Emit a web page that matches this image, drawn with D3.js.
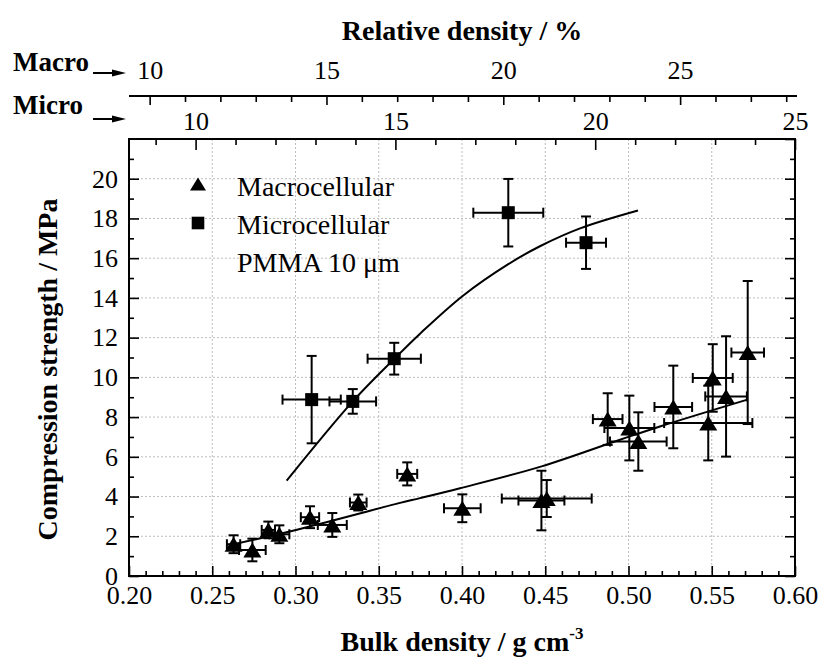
<!DOCTYPE html>
<html>
<head>
<meta charset="utf-8">
<script src="https://cdn.jsdelivr.net/npm/d3@7"></script>
<style>
  html, body { margin: 0; padding: 0; background: #fff; }
  svg { display: block; }
</style>
</head>
<body>
<svg id="chart" width="823" height="657"></svg>
<script>
// ---------------- data ----------------
const bulkTicks = [0.20, 0.25, 0.30, 0.35, 0.40, 0.45, 0.50, 0.55, 0.60];
const strengthTicks = [0, 2, 4, 6, 8, 10, 12, 14, 16, 18, 20];
const macroRelTicks = [10, 15, 20, 25];
const microRelTicks = [10, 15, 20, 25];

// Microcellular (squares)
const microBulk        = [0.3097, 0.3344, 0.3593, 0.4278, 0.4745];
const microStrength    = [8.88, 8.79, 10.94, 18.29, 16.78];
const microBulkErr     = [0.0175, 0.014, 0.016, 0.021, 0.012];
const microStrengthErr = [2.2, 0.62, 0.8, 1.7, 1.32];

// Macrocellular (triangles)
const macroBulk        = [0.2628, 0.2741, 0.2837, 0.2903, 0.3087, 0.3221, 0.3377, 0.3671, 0.4002, 0.4477, 0.4509, 0.4875, 0.5005, 0.5059, 0.5269, 0.5479, 0.5506, 0.5586, 0.5716];
const macroStrength    = [1.60, 1.31, 2.32, 2.10, 2.96, 2.57, 3.70, 5.14, 3.41, 3.80, 3.90, 7.90, 7.45, 6.77, 8.51, 7.70, 9.97, 9.04, 11.25];
const macroBulkErr     = [0.004, 0.008, 0.004, 0.006, 0.0055, 0.0087, 0.005, 0.006, 0.011, 0.0138, 0.027, 0.0089, 0.015, 0.017, 0.0113, 0.0265, 0.012, 0.0125, 0.0098];
const macroStrengthErr = [0.45, 0.57, 0.42, 0.45, 0.55, 0.6, 0.4, 0.58, 0.7, 1.5, 0.93, 1.3, 1.63, 1.47, 2.08, 1.88, 1.7, 3.03, 3.6];

// Fit curves
const microFitBulk     = [0.2947, 0.3344, 0.3593, 0.3748, 0.4004, 0.4278, 0.4468, 0.4709, 0.5057];
const microFitStrength = [4.8, 8.79, 10.93, 12.2, 14.1, 15.7, 16.6, 17.5, 18.4];
const macroFitBulk     = [0.2628, 0.3003, 0.3628, 0.3748, 0.3988, 0.4478, 0.4949, 0.5189, 0.5714];
const macroFitStrength = [1.6, 2.32, 3.68, 3.92, 4.42, 5.52, 6.86, 7.53, 8.88];

// solid densities relating bulk density to relative density (%)
const microSolid = 2.4;
const macroSolid = 2.124;

// ---------------- layout ----------------
const FONT = "'Liberation Serif', 'Times New Roman', Times, 'DejaVu Serif', 'Noto Serif', serif";
const L = 129, R = 795, T = 139, B = 576;
const svg = d3.select("#chart").attr("font-family", FONT);

const x = d3.scaleLinear().domain([0.2, 0.6]).range([L, R]);
const y = d3.scaleLinear().domain([0, 22]).range([B, T]);
const xMicro = d3.scaleLinear().domain([20 / microSolid, 60 / microSolid]).range([L, R]);
const xMacro = d3.scaleLinear().domain([20 / macroSolid, 60 / macroSolid]).range([L, R]);

// grid
const grid = svg.append("g").attr("stroke", "#bdbdbd").attr("stroke-width", 1).attr("stroke-dasharray", "2,2");
bulkTicks.slice(1, -1).forEach(v => {
  grid.append("line").attr("x1", x(v)).attr("x2", x(v)).attr("y1", T).attr("y2", B);
});
strengthTicks.slice(1).forEach(v => {
  grid.append("line").attr("x1", L).attr("x2", R).attr("y1", y(v)).attr("y2", y(v));
});

function styleAxis(g, fs) {
  g.attr("font-family", FONT).attr("font-size", fs);
  g.selectAll("path.domain").attr("stroke", "#000").attr("stroke-width", 2);
  g.selectAll(".tick line").attr("stroke", "#000").attr("stroke-width", 1.6);
  g.selectAll("text").attr("font-size", fs).attr("font-family", FONT).attr("fill", "#000");
}

const minorBulk = d3.range(21, 60).map(d => d / 100).filter(d => Math.round(d * 100) % 5 !== 0);
const minorStrength = d3.range(1, 22, 2);

// bottom axis
const gB = svg.append("g").attr("transform", `translate(0,${B})`)
  .call(d3.axisBottom(x).tickValues(bulkTicks).tickFormat(d3.format(".2f")).tickSizeInner(-10).tickSizeOuter(0).tickPadding(10));
styleAxis(gB, 26);
gB.select("path.domain").remove();
const gBm = svg.append("g").attr("transform", `translate(0,${B})`)
  .call(d3.axisBottom(x).tickValues(minorBulk).tickFormat("").tickSizeInner(-5).tickSizeOuter(0));
styleAxis(gBm, 26); gBm.select("path.domain").remove();

// left axis
const gL = svg.append("g").attr("transform", `translate(${L},0)`)
  .call(d3.axisLeft(y).tickValues(strengthTicks).tickFormat(d3.format("d")).tickSizeInner(-10).tickSizeOuter(0).tickPadding(11));
styleAxis(gL, 26); gL.select("path.domain").remove();
const gLm = svg.append("g").attr("transform", `translate(${L},0)`)
  .call(d3.axisLeft(y).tickValues(minorStrength).tickFormat("").tickSizeInner(-5).tickSizeOuter(0));
styleAxis(gLm, 26); gLm.select("path.domain").remove();

// right axis (mirror)
const gR = svg.append("g").attr("transform", `translate(${R},0)`)
  .call(d3.axisRight(y).tickValues(strengthTicks.concat([22])).tickFormat("").tickSizeInner(-10).tickSizeOuter(0));
styleAxis(gR, 26); gR.select("path.domain").remove();
const gRm = svg.append("g").attr("transform", `translate(${R},0)`)
  .call(d3.axisRight(y).tickValues(minorStrength).tickFormat("").tickSizeInner(-5).tickSizeOuter(0));
styleAxis(gRm, 26); gRm.select("path.domain").remove();

// top micro axis (on frame)
const microMinor = d3.range(9, 25).filter(d => d % 5 !== 0);
const gT = svg.append("g").attr("transform", `translate(0,${T})`)
  .call(d3.axisTop(xMicro).tickValues(microRelTicks).tickFormat(d3.format("d")).tickSizeInner(-11).tickSizeOuter(0).tickPadding(9));
styleAxis(gT, 26); gT.select("path.domain").remove();
const gTm = svg.append("g").attr("transform", `translate(0,${T})`)
  .call(d3.axisTop(xMicro).tickValues(microMinor).tickFormat("").tickSizeInner(-6).tickSizeOuter(0));
styleAxis(gTm, 26); gTm.select("path.domain").remove();

// macro axis (separate, above)
const macroY = 96;
const macroMinor = d3.range(10, 29).filter(d => d % 5 !== 0);
const gM = svg.append("g").attr("transform", `translate(0,${macroY})`)
  .call(d3.axisTop(xMacro).tickValues(macroRelTicks).tickFormat(d3.format("d")).tickSizeInner(-9).tickSizeOuter(0).tickPadding(17));
styleAxis(gM, 26);
gM.select("path.domain").attr("d", `M${L},0H${R + 2}`);
const gMm = svg.append("g").attr("transform", `translate(0,${macroY})`)
  .call(d3.axisTop(xMacro).tickValues(macroMinor).tickFormat("").tickSizeInner(-6).tickSizeOuter(0));
styleAxis(gMm, 26); gMm.select("path.domain").remove();

// frame
svg.append("rect").attr("x", L).attr("y", T).attr("width", R - L).attr("height", B - T)
  .attr("fill", "none").attr("stroke", "#000").attr("stroke-width", 2);

// fit lines
const line = d3.line().x(d => x(d[0])).y(d => y(d[1])).curve(d3.curveCatmullRom.alpha(0.5));
svg.append("path").datum(d3.zip(microFitBulk, microFitStrength)).attr("d", line)
  .attr("fill", "none").attr("stroke", "#000").attr("stroke-width", 2);
svg.append("path").datum(d3.zip(macroFitBulk, macroFitStrength)).attr("d", line)
  .attr("fill", "none").attr("stroke", "#000").attr("stroke-width", 2);

// error bars
function errorBars(bx, sy, bErr, sErr) {
  const g = svg.append("g").attr("stroke", "#000").attr("stroke-width", 2).attr("fill", "none");
  const cap = 5;
  bx.forEach((b, i) => {
    const cx = x(b), cy = y(sy[i]);
    const y1 = y(sy[i] + sErr[i]), y2 = y(sy[i] - sErr[i]);
    const x1 = x(b - bErr[i]), x2 = x(b + bErr[i]);
    g.append("line").attr("x1", cx).attr("x2", cx).attr("y1", y1).attr("y2", y2);
    g.append("line").attr("x1", cx - cap).attr("x2", cx + cap).attr("y1", y1).attr("y2", y1);
    g.append("line").attr("x1", cx - cap).attr("x2", cx + cap).attr("y1", y2).attr("y2", y2);
    g.append("line").attr("x1", x1).attr("x2", x2).attr("y1", cy).attr("y2", cy);
    g.append("line").attr("x1", x1).attr("x2", x1).attr("y1", cy - cap).attr("y2", cy + cap);
    g.append("line").attr("x1", x2).attr("x2", x2).attr("y1", cy - cap).attr("y2", cy + cap);
  });
}
errorBars(macroBulk, macroStrength, macroBulkErr, macroStrengthErr);
errorBars(microBulk, microStrength, microBulkErr, microStrengthErr);

// markers
const triPath = (w, h) => `M0,${-h / 2}L${w / 2},${h / 2}L${-w / 2},${h / 2}Z`;
svg.append("g").selectAll("path").data(d3.zip(macroBulk, macroStrength)).join("path")
  .attr("d", triPath(18, 15)).attr("transform", d => `translate(${x(d[0])},${y(d[1])})`).attr("fill", "#000");
svg.append("g").selectAll("rect").data(d3.zip(microBulk, microStrength)).join("rect")
  .attr("x", d => x(d[0]) - 6.5).attr("y", d => y(d[1]) - 6.5).attr("width", 13).attr("height", 13).attr("fill", "#000");

// legend
const leg = svg.append("g");
leg.append("path").attr("d", triPath(16, 13)).attr("transform", "translate(198,184)").attr("fill", "#000");
leg.append("rect").attr("x", 198 - 6.3).attr("y", 223 - 6.3).attr("width", 12.6).attr("height", 12.6).attr("fill", "#000");
const legendLabels = ["Macrocellular", "Microcellular", "PMMA 10 \u03bcm"];
leg.selectAll("text").data(legendLabels).join("text")
  .attr("x", 237).attr("y", (d, i) => 196 + i * 38).attr("font-size", 28).attr("font-family", FONT).text(d => d);

// axis titles
svg.append("text").attr("x", (L + R) / 2).attr("y", 40).attr("text-anchor", "middle")
  .attr("font-size", 28).attr("font-weight", "bold").attr("font-family", FONT).text("Relative density / %");

const xt = svg.append("text").attr("x", (L + R) / 2).attr("y", 651).attr("text-anchor", "middle")
  .attr("font-size", 28).attr("font-weight", "bold").attr("font-family", FONT);
xt.append("tspan").text("Bulk density / g cm");
xt.append("tspan").attr("dy", -12).attr("font-size", 17).text("-3");

svg.append("text").attr("transform", `translate(57,${(T + B) / 2 + 12}) rotate(-90)`).attr("text-anchor", "middle")
  .attr("font-size", 28).attr("font-weight", "bold").attr("font-family", FONT).text("Compression strength / MPa");

// Macro / Micro labels with arrows
svg.append("text").attr("x", 13).attr("y", 71).attr("font-size", 27).attr("font-weight", "bold").attr("font-family", FONT).text("Macro");
svg.append("text").attr("x", 13).attr("y", 114).attr("font-size", 27).attr("font-weight", "bold").attr("font-family", FONT).text("Micro");
function arrow(x1, x2, yy) {
  svg.append("line").attr("x1", x1).attr("x2", x2 - 10).attr("y1", yy).attr("y2", yy).attr("stroke", "#000").attr("stroke-width", 2);
  svg.append("path").attr("d", `M${x2},${yy}L${x2 - 14},${yy - 3.5}L${x2 - 14},${yy + 3.5}Z`).attr("fill", "#000");
}
arrow(93, 126, 73);
arrow(93, 126, 119);
</script>
</body>
</html>
